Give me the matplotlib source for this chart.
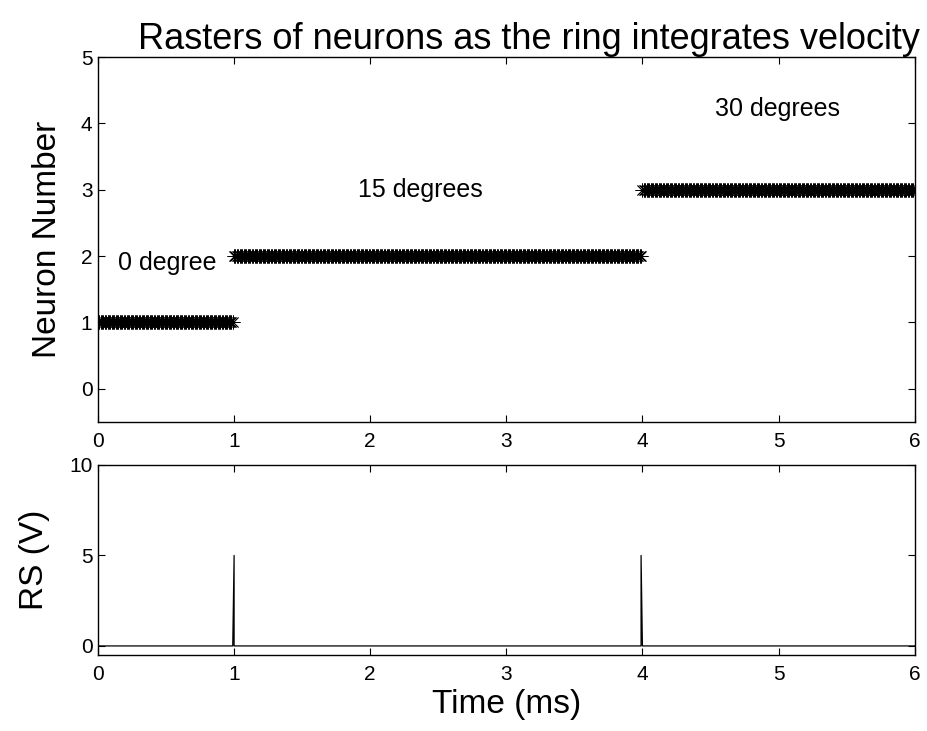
import numpy as np
import matplotlib.pyplot as plt

plt.rcParams['font.family'] = ['Liberation Sans', 'DejaVu Sans']

# raster segments: (start ms, end ms, active neuron)
seg_start = [0.0, 1.0, 4.0]
seg_end = [1.0, 4.0, 6.0]
seg_neuron = [1, 2, 3]
spike_dt = 0.01  # ms between spikes within a segment

# annotations on the raster
label_text = ['0 degree', '15 degrees', '30 degrees']
label_x = [0.51, 2.37, 4.99]
label_y = [1.9, 3.0, 4.22]

# reset signal (RS) trace
rs_time = [0.0, 0.99, 0.99, 1.0, 1.0, 3.99, 3.99, 4.0, 4.0, 6.0]
rs_volt = [0.0, 0.0, 0.0, 5.0, 0.0, 0.0, 5.0, 0.0, 0.0, 0.0]

fig = plt.figure(figsize=(9.28, 7.31), dpi=100)
ax1 = fig.add_axes([0.1056, 0.4227, 0.880, 0.4993])
ax2 = fig.add_axes([0.1056, 0.1040, 0.880, 0.2599])

for s, e, n in zip(seg_start, seg_end, seg_neuron):
    t = np.arange(s, e, spike_dt)
    ax1.plot(t, np.full_like(t, n), linestyle='none', marker=(8, 2, 0),
             markersize=10, markeredgewidth=0.6, color='black')

for txt, x, y in zip(label_text, label_x, label_y):
    ax1.text(x, y, txt, ha='center', va='center', fontsize=18)

ax1.set_xlim(0, 6)
ax1.set_ylim(-0.5, 5)
ax1.set_yticks([0, 1, 2, 3, 4, 5])
ax1.set_xticks([0, 1, 2, 3, 4, 5, 6])
ax1.set_ylabel('Neuron Number', fontsize=24, labelpad=13)
ax1.set_title('Rasters of neurons as the ring integrates velocity',
              fontsize=26, pad=6, x=0.528)

ax2.plot(rs_time, rs_volt, color='black', linewidth=0.9)
ax2.set_xlim(0, 6)
ax2.set_ylim(-0.5, 10)
ax2.set_yticks([0, 5, 10])
ax2.set_xticks([0, 1, 2, 3, 4, 5, 6])
ax2.set_ylabel('RS (V)', fontsize=24, labelpad=14)
ax2.set_xlabel('Time (ms)', fontsize=24, labelpad=4)

for ax in (ax1, ax2):
    ax.tick_params(direction='in', top=True, right=True, length=5, width=0.8,
                   labelsize=15, pad=4)
    ax.tick_params(axis='x', pad=7)
    for sp in ax.spines.values():
        sp.set_linewidth(1.0)

plt.savefig('out.png', dpi=100)
